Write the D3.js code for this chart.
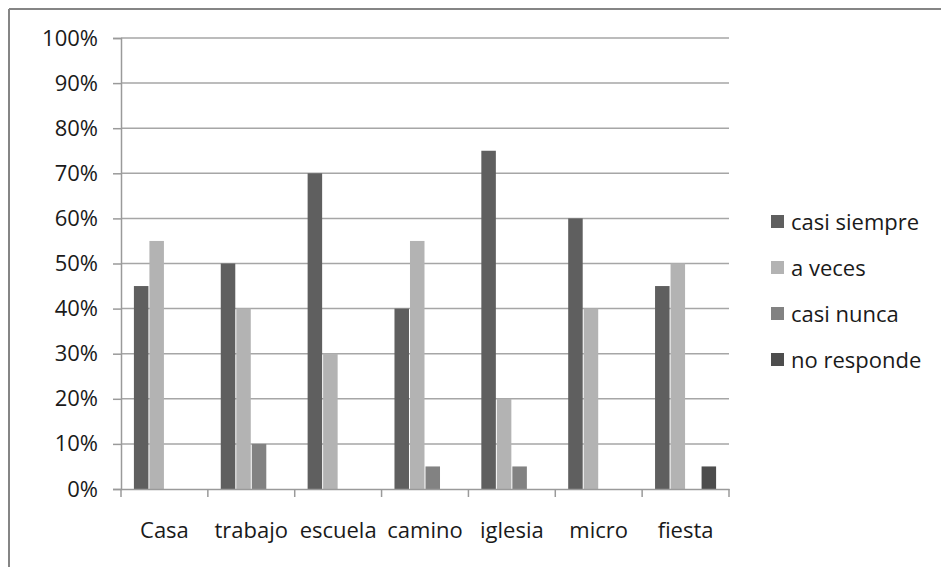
<!DOCTYPE html>
<html>
<head>
<meta charset="utf-8">
<script src="https://cdn.jsdelivr.net/npm/d3@7"></script>
<style>
  html, body { margin: 0; padding: 0; background: #fff; }
  svg { display: block; }
  text { font-family: "Open Sans", "Noto Sans", sans-serif; fill: #1a1a1a; }
</style>
</head>
<body>
<svg id="chart" width="941" height="567"></svg>
<script>
const categories = ["Casa", "trabajo", "escuela", "camino", "iglesia", "micro", "fiesta"];
const seriesNames = ["casi siempre", "a veces", "casi nunca", "no responde"];
const casiSiempre = [45, 50, 70, 40, 75, 60, 45];
const aVeces      = [55, 40, 30, 55, 20, 40, 50];
const casiNunca   = [0, 10, 0, 5, 5, 0, 0];
const noResponde  = [0, 0, 0, 0, 0, 0, 5];
const yTicks = [0, 10, 20, 30, 40, 50, 60, 70, 80, 90, 100];
const colors = ["#5f5f5f", "#b3b3b3", "#828282", "#4d4d4d"];

const seriesValues = [casiSiempre, aVeces, casiNunca, noResponde];

const svg = d3.select("#chart");
const W = 941, H = 567;
const plot = { left: 121, right: 729, top: 38, bottom: 489 };
const FS = 22;

// frame (top and left edges visible)
svg.append("line").attr("x1", 9).attr("x2", W).attr("y1", 9).attr("y2", 9)
  .attr("stroke", "#858585").attr("stroke-width", 2);
svg.append("line").attr("x1", 9).attr("x2", 9).attr("y1", 9).attr("y2", H)
  .attr("stroke", "#858585").attr("stroke-width", 2);

const x0 = d3.scaleBand().domain(categories).range([plot.left, plot.right]).paddingInner(0).paddingOuter(0);
const inner = 0.8 / 5.6; // gap 160% split on both sides
const x1 = d3.scaleBand().domain(seriesNames)
  .range([x0.bandwidth() * inner, x0.bandwidth() * (1 - inner)]).padding(0);
const y = d3.scaleLinear().domain([0, 100]).range([plot.bottom, plot.top]);

// gridlines
svg.append("g").selectAll("line").data(yTicks.filter(d => d > 0)).join("line")
  .attr("x1", plot.left).attr("x2", plot.right)
  .attr("y1", d => y(d)).attr("y2", d => y(d))
  .attr("stroke", "#a6a6a6").attr("stroke-width", 1.5);

// y axis
const yAxis = d3.axisLeft(y).tickValues(yTicks).tickSize(8).tickPadding(15)
  .tickFormat(d => d + "%");
const gy = svg.append("g").attr("transform", `translate(${plot.left},0)`).call(yAxis);
gy.select(".domain").attr("stroke", "#9a9a9a").attr("stroke-width", 1.5);
gy.selectAll(".tick line").attr("stroke", "#9a9a9a").attr("stroke-width", 1.5);
gy.selectAll(".tick text").attr("font-size", FS).attr("fill", "#1a1a1a")
  .style("font-family", '"Open Sans", "Noto Sans", sans-serif');

// bars
const groups = svg.append("g").selectAll("g").data(categories).join("g")
  .attr("transform", c => `translate(${x0(c)},0)`);
groups.selectAll("rect")
  .data((c, i) => seriesNames.map((s, j) => ({ s, j, v: seriesValues[j][i] })))
  .join("rect")
  .filter(d => d.v > 0)
  .attr("x", d => x1(d.s) + 0.5)
  .attr("width", x1.bandwidth() - 1)
  .attr("y", d => y(d.v))
  .attr("height", d => y(0) - y(d.v))
  .attr("fill", d => colors[d.j]);

// x axis
const xAxis = d3.axisBottom(x0).tickSize(0).tickPadding(33);
const gx = svg.append("g").attr("transform", `translate(0,${plot.bottom})`).call(xAxis);
gx.select(".domain").attr("stroke", "#9a9a9a").attr("stroke-width", 1.5);
gx.selectAll(".tick text").attr("font-size", FS).attr("fill", "#1a1a1a")
  .style("font-family", '"Open Sans", "Noto Sans", sans-serif');
// category boundary ticks
const bounds = categories.map(c => x0(c)).concat([plot.right]);
svg.append("g").selectAll("line").data(bounds).join("line")
  .attr("x1", d => d).attr("x2", d => d)
  .attr("y1", plot.bottom).attr("y2", plot.bottom + 8)
  .attr("stroke", "#9a9a9a").attr("stroke-width", 1.5);

// legend
const leg = svg.append("g").attr("transform", "translate(771,222)");
const items = leg.selectAll("g").data(seriesNames).join("g")
  .attr("transform", (d, i) => `translate(0,${i * 46})`);
items.append("rect").attr("x", 0).attr("y", -7).attr("width", 13).attr("height", 13)
  .attr("fill", (d, i) => colors[i]);
items.append("text").attr("x", 20).attr("y", 0).attr("dy", "0.35em")
  .attr("font-size", FS).text(d => d);
</script>
</body>
</html>
